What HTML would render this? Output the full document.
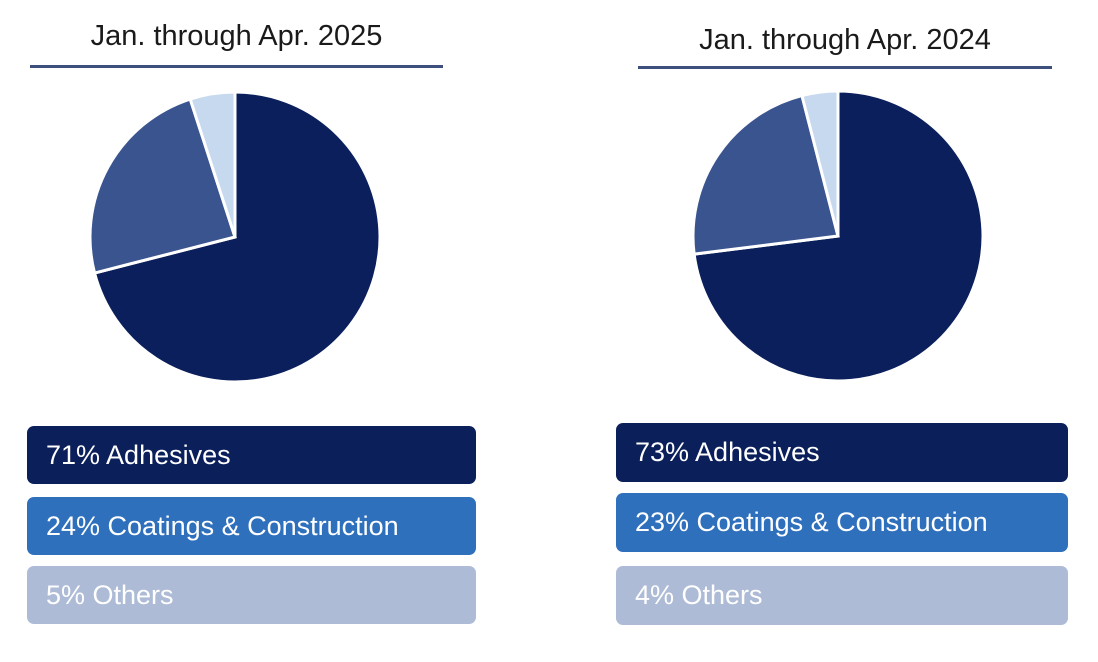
<!DOCTYPE html>
<html><head><meta charset="utf-8"><style>
body{margin:0;width:1098px;height:662px;background:#fff;overflow:hidden;font-family:"Liberation Sans",sans-serif;position:relative}
.t{position:absolute;font-size:29px;color:#1a1a1a;text-align:center}
.u{position:absolute;height:3px;background:#3d4f7c}
.b{position:absolute;border-radius:7px;color:#fff;font-size:27px;line-height:58px;padding-left:19px;box-sizing:border-box}
</style></head><body>
<div class="t" style="left:30px;width:413px;top:20px">Jan. through Apr. 2025</div>
<div class="u" style="left:30px;width:413px;top:65px"></div>
<div class="t" style="left:638px;width:414px;top:24px">Jan. through Apr. 2024</div>
<div class="u" style="left:638px;width:414px;top:66px"></div>
<svg id="pies" width="1098" height="662" style="position:absolute;left:0;top:0"></svg>
<div class="b" style="left:27px;top:426px;width:449px;height:58px;background:#0b1f5a">71% Adhesives</div>
<div class="b" style="left:27px;top:497px;width:449px;height:58px;background:#2f70bd">24% Coatings &amp; Construction</div>
<div class="b" style="left:27px;top:566px;width:449px;height:58px;background:#adbbd6">5% Others</div>
<div class="b" style="left:616px;top:423px;width:452px;height:59px;background:#0b1f5a">73% Adhesives</div>
<div class="b" style="left:616px;top:493px;width:452px;height:59px;background:#2f70bd">23% Coatings &amp; Construction</div>
<div class="b" style="left:616px;top:566px;width:452px;height:59px;background:#adbbd6">4% Others</div>
<script>
const categories=["Adhesives","Coatings & Construction","Others"];
const values2025=[71,24,5];
const values2024=[73,23,4];
const colors=["#0a1f5b","#3a5490","#c6d9ee"];
const svg=document.getElementById('pies');
const NS="http://www.w3.org/2000/svg";
function pie(vals,cx,cy,r,name){
  const tot=vals.reduce((a,b)=>a+b,0);let a0=0;
  vals.forEach((v,i)=>{
    const a1=a0+v/tot*2*Math.PI;
    const x0=cx+r*Math.sin(a0),y0=cy-r*Math.cos(a0),x1=cx+r*Math.sin(a1),y1=cy-r*Math.cos(a1);
    const p=document.createElementNS(NS,'path');
    p.setAttribute('d',`M${cx},${cy}L${x0},${y0}A${r},${r} 0 ${a1-a0>Math.PI?1:0} 1 ${x1},${y1}Z`);
    p.setAttribute('fill',colors[i]);p.setAttribute('stroke','#fff');p.setAttribute('stroke-width','3');
    
    
    svg.appendChild(p);a0=a1;
  });
}
pie(values2025,235,237,145,'2025');
pie(values2024,838,236,145,'2024');
</script>
</body></html>
